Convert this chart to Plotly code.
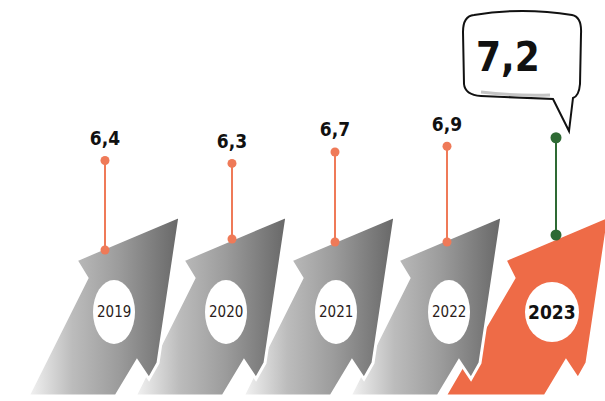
import plotly.graph_objects as go

# ---- data -------------------------------------------------------------
years = ["2019", "2020", "2021", "2022", "2023"]
values = [6.4, 6.3, 6.7, 6.9, 7.2]

# ---- layout constants (pixel space of the 605x401 canvas) ---------------
W, H = 605, 401
wing_x = [76, 183, 291, 398, 505]          # upper-left wing corner of each arrow
WING_Y = 260
stem_x = [105, 232, 335, 447, 556]         # lollipop stems
stem_base_px = [250, 239, 242, 242, 235]   # where each stem meets its arrow
badge_cx = [114, 226, 336, 449, 552]
BADGE_CY = 312

# arrow outline relative to the wing corner: tip, right edge, saw-tooth, body
ARROW = [(0, 0), (104, -44), (82, 103), (73, 119), (61, 101), (40, 136),
         (-48, 136), (11, 18)]
# the highlighted arrow has a slightly wider body
ARROW_HI = [(0, 0), (104, -44), (82, 103), (73, 119), (61, 101), (40, 136),
            (-60, 136), (9, 18)]

ORANGE = "#ee6b47"
STEM_ORANGE = "#ef7a58"
GREEN = "#2e6a34"
GRAY_SCALE = [[0, "#f6f6f6"], [0.3, "#bcbcbc"], [0.6, "#9c9c9c"], [1, "#676767"]]
FONT = "DejaVu Sans, sans-serif"

# value axis: linear scale shared by the lollipop heads
V_MID, P_MID, PX_PER_UNIT = 6.7, 152, 28.5


def px_to_val(p):
    return V_MID - (p - P_MID) / PX_PER_UNIT


def fmt(v):
    return f"{v:.1f}".replace(".", ",")


def narrow(s):
    return f'<span style="font-stretch:condensed">{s}</span>'


fig = go.Figure()

# arrows, drawn right to left so the earlier years sit in front
for i in reversed(range(len(years))):
    wx = wing_x[i]
    last = i == len(years) - 1
    outline = ARROW_HI if last else ARROW
    xs = [wx + dx for dx, dy in outline] + [wx + outline[0][0]]
    ys = [WING_Y + dy for dx, dy in outline] + [WING_Y + outline[0][1]]
    kw = dict(fillcolor=ORANGE) if last else dict(
        fillgradient=dict(type="horizontal", colorscale=GRAY_SCALE,
                          start=wx - 50, stop=wx + 104))
    fig.add_trace(go.Scatter(
        x=xs, y=ys, mode="lines", fill="toself",
        line=dict(color="white", width=3),
        hoverinfo="skip", showlegend=False, **kw))

# lollipops: base on the arrow, head at the value
for i, (yr, v) in enumerate(zip(years, values)):
    last = i == len(years) - 1
    col = GREEN if last else STEM_ORANGE
    base_v = px_to_val(stem_base_px[i])
    fig.add_trace(go.Scatter(
        x=[stem_x[i], stem_x[i]], y=[base_v, v], yaxis="y2",
        mode="lines+markers",
        line=dict(color=col, width=2),
        marker=dict(color=col, size=11 if last else 9),
        hoverinfo="skip", showlegend=False))
    if not last:
        # invisible marker only pads the label away from the head
        fig.add_trace(go.Scatter(
            x=[stem_x[i]], y=[v], yaxis="y2", mode="markers+text",
            marker=dict(size=16, opacity=0),
            text=[narrow(fmt(v))], textposition="top center",
            textfont=dict(family=FONT, size=19, color="#111111", weight="bold"),
            hoverinfo="skip", showlegend=False))

shapes = []
# white year badges
for i in range(len(years)):
    rx, ry = (27, 30) if i == len(years) - 1 else (21, 32)
    shapes.append(dict(type="circle", xref="x", yref="y",
                       x0=badge_cx[i] - rx, x1=badge_cx[i] + rx,
                       y0=BADGE_CY - ry, y1=BADGE_CY + ry,
                       fillcolor="white", line=dict(width=0), layer="above"))

# speech bubble for the latest year
shapes.append(dict(
    type="path", xref="x", yref="y", layer="above",
    path=("M 474,15 Q 522,7 572,15 Q 582,17 581,34 L 580,84 Q 579,96 573,98 "
          "L 569,131 L 553,99 L 481,96 Q 465,95 464,84 L 463,32 Q 463,16 474,15 Z"),
    fillcolor="white", line=dict(color="#111111", width=2)))
shapes.append(dict(
    type="path", xref="x", yref="y", layer="above",
    path="M 481,92 Q 515,96 550,95",
    line=dict(color="#c4c4c4", width=3)))

annotations = []
for i, yr in enumerate(years):
    last = i == len(years) - 1
    annotations.append(dict(
        x=badge_cx[i], y=BADGE_CY, xref="x", yref="y", text=narrow(yr),
        showarrow=False,
        font=dict(family=FONT, size=19 if last else 15,
                  color="#111111" if last else "#2a1d1b",
                  weight="bold" if last else "normal")))
annotations.append(dict(
    x=508, y=57, xref="x", yref="y", text=narrow(fmt(values[-1])),
    showarrow=False,
    font=dict(family=FONT, size=40, color="#111111", weight="bold")))

fig.update_layout(
    width=W, height=H, margin=dict(l=0, r=0, t=0, b=0),
    paper_bgcolor="white", plot_bgcolor="white",
    xaxis=dict(range=[0, W], visible=False, fixedrange=True),
    yaxis=dict(range=[H, 0], visible=False, fixedrange=True),
    yaxis2=dict(range=[px_to_val(H), px_to_val(0)], overlaying="y",
                visible=False, fixedrange=True),
    shapes=shapes, annotations=annotations,
)

fig.write_html("out.html", config=dict(displayModeBar=False))
